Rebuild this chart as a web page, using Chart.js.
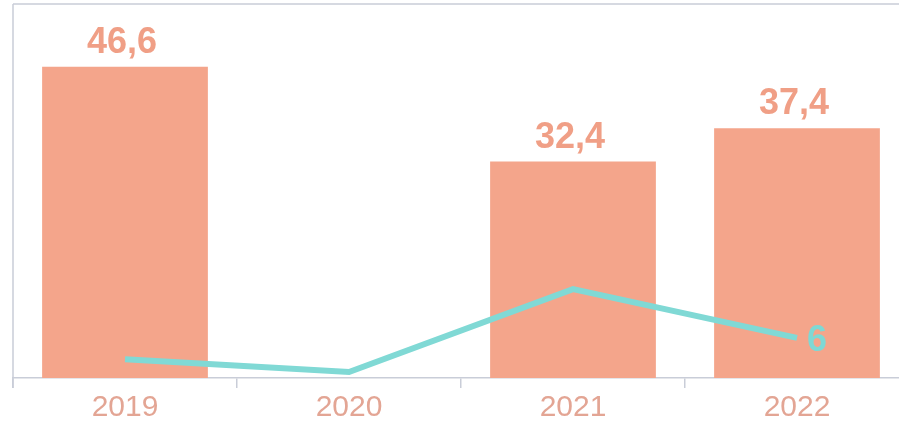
<!DOCTYPE html>
<html>
<head>
<meta charset="utf-8">
<script src="https://cdn.jsdelivr.net/npm/chart.js@4/dist/chart.umd.min.js"></script>
<style>
  html, body { margin: 0; padding: 0; background: #fff; overflow: hidden; }
  #wrap { width: 899px; height: 423px; overflow: hidden; }
</style>
</head>
<body>
<div id="wrap"><canvas id="chart" width="909" height="423"></canvas></div>
<script>
// data
const years = ['2019', '2020', '2021', '2022'];
const barValues = [46.6, null, 32.4, 37.4];
const lineValues = [2.8, 0.9, 13.3, 6];
const lineLabelIndex = 3;

const frameColor = '#c9cdd8';
const fontFamily = '"Liberation Sans", Arial, sans-serif';

function fmt(v) {
    return String(v).replace('.', ',');
}

// labels above bars and next to the last point, plus the frame
const labelsPlugin = {
    id: 'labels',
    afterDatasetsDraw(chart) {
        const ctx = chart.ctx;
        const area = chart.chartArea;
        ctx.save();
        // frame: top and left lines
        ctx.strokeStyle = frameColor;
        ctx.lineWidth = 1.5;
        ctx.beginPath();
        ctx.moveTo(area.left, area.top);
        ctx.lineTo(area.right, area.top);
        ctx.moveTo(area.left, area.top);
        ctx.lineTo(area.left, area.bottom + 10);
        ctx.stroke();

        ctx.font = 'bold 36px ' + fontFamily;
        ctx.textAlign = 'center';
        ctx.textBaseline = 'alphabetic';

        const barMeta = chart.getDatasetMeta(1);
        ctx.fillStyle = '#f09f86';
        barMeta.data.forEach((el, i) => {
            if (barValues[i] == null) return;
            ctx.fillText(fmt(barValues[i]), el.x - 3, el.y - 14);
        });

        const lineMeta = chart.getDatasetMeta(0);
        const p = lineMeta.data[lineLabelIndex];
        ctx.fillStyle = '#7fd8d4';
        ctx.fillText(fmt(lineValues[lineLabelIndex]), p.x + 20, p.y + 13);
        ctx.restore();
    }
};

new Chart(document.getElementById('chart').getContext('2d'), {
    data: {
        labels: years,
        datasets: [{
            type: 'line',
            data: lineValues,
            borderColor: '#80d9d5',
            borderWidth: 6,
            pointRadius: 0,
            tension: 0,
            order: 0
        }, {
            type: 'bar',
            data: barValues,
            backgroundColor: '#f4a58b',
            categoryPercentage: 0.74,
            barPercentage: 1,
            order: 1
        }]
    },
    options: {
        responsive: false,
        animation: false,
        layout: { padding: { left: 13, top: 4, right: 0, bottom: 0 } },
        plugins: {
            legend: { display: false },
            tooltip: { enabled: false }
        },
        scales: {
            x: {
                afterFit(scale) { scale.height = 45; },
                grid: {
                    offset: true,
                    drawOnChartArea: false,
                    drawTicks: true,
                    tickLength: 10,
                    color: frameColor,
                    lineWidth: 1.5
                },
                border: { display: true, color: frameColor, width: 1.5 },
                ticks: {
                    color: '#e3a594',
                    font: { family: fontFamily, size: 30 },
                    padding: 2
                }
            },
            y: {
                display: false,
                min: 0,
                max: 56
            }
        }
    },
    plugins: [labelsPlugin]
});
</script>
</body>
</html>
